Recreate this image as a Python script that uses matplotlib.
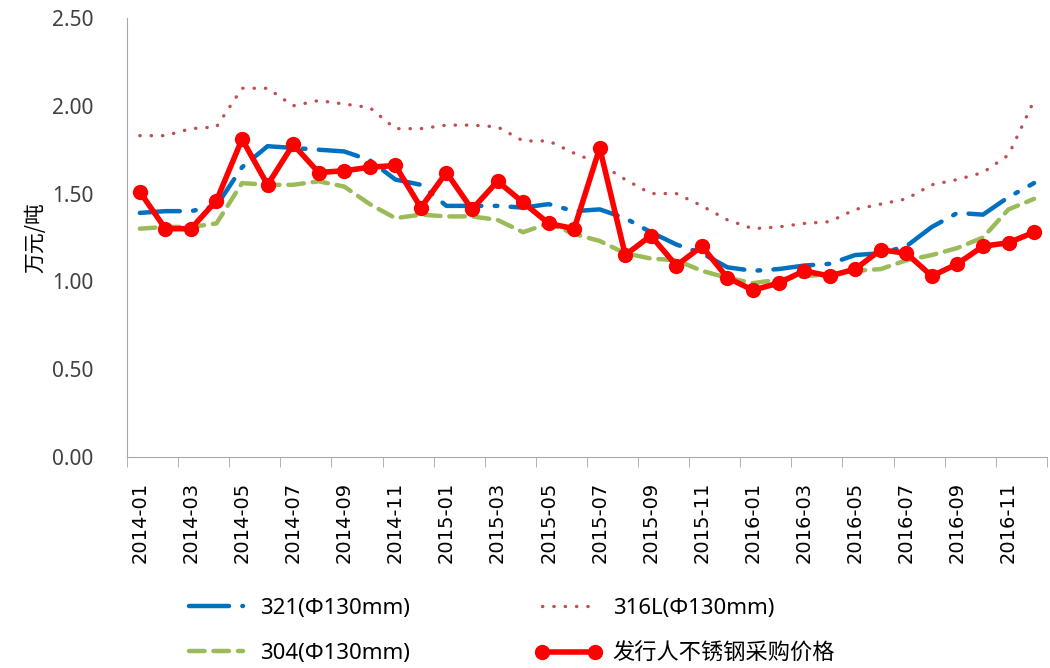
import numpy as np
import matplotlib
matplotlib.use('Agg')
import matplotlib.pyplot as plt

plt.rcParams['font.family'] = ['Noto Sans', 'Noto Sans CJK SC', 'DejaVu Sans']

# months 2014-01 .. 2016-12
months = [f'{y}-{m:02d}' for y in (2014, 2015, 2016) for m in range(1, 13)]

s321 = [1.39, 1.40, 1.40, 1.43, 1.65, 1.77, 1.76, 1.75, 1.74, 1.69, 1.58, 1.55,
        1.43, 1.43, 1.43, 1.42, 1.44, 1.40, 1.41, 1.36, 1.28, 1.21, 1.16, 1.08,
        1.06, 1.07, 1.09, 1.10, 1.15, 1.16, 1.20, 1.31, 1.39, 1.38, 1.48, 1.56]
s316L = [1.83, 1.83, 1.87, 1.88, 2.10, 2.10, 2.00, 2.03, 2.01, 1.99, 1.87, 1.87,
         1.89, 1.89, 1.88, 1.80, 1.80, 1.73, 1.67, 1.58, 1.50, 1.50, 1.43, 1.35,
         1.30, 1.31, 1.33, 1.34, 1.41, 1.44, 1.47, 1.55, 1.58, 1.62, 1.72, 2.03]
s304 = [1.30, 1.31, 1.31, 1.33, 1.56, 1.55, 1.55, 1.57, 1.54, 1.44, 1.36, 1.38,
        1.37, 1.37, 1.35, 1.28, 1.33, 1.27, 1.23, 1.16, 1.13, 1.12, 1.06, 1.02,
        0.99, 1.01, 1.03, 1.04, 1.06, 1.07, 1.12, 1.15, 1.19, 1.25, 1.41, 1.47]
issuer = [1.51, 1.30, 1.30, 1.46, 1.81, 1.55, 1.78, 1.62, 1.63, 1.65, 1.66, 1.42,
          1.62, 1.41, 1.57, 1.45, 1.33, 1.30, 1.76, 1.15, 1.26, 1.09, 1.20, 1.02,
          0.95, 0.99, 1.06, 1.03, 1.07, 1.18, 1.16, 1.03, 1.10, 1.20, 1.22, 1.28]

names = ['321(Φ130mm)', '316L(Φ130mm)', '304(Φ130mm)', '发行人不锈钢采购价格']

fig = plt.figure(figsize=(10.5, 6.68), dpi=100)
ax = fig.add_axes([0.121, 0.316, 0.876, 0.657])

x = np.arange(len(months))
l321, = ax.plot(x, s321, color='#0070C0', lw=3.2, dashes=(9, 3, 0.6, 3),
                dash_capstyle='round', label=names[0])
l316, = ax.plot(x, s316L, color='#C0504D', lw=2.4, dashes=(0.1, 3.3),
                dash_capstyle='round', label=names[1])
l304, = ax.plot(x, s304, color='#9BBB59', lw=3.2, dashes=(3.5, 2),
                dash_capstyle='round', label=names[2])
lred, = ax.plot(x, issuer, color='#FF0000', lw=4, marker='o', ms=10,
                label=names[3], zorder=5)

ax.set_xlim(-0.5, len(months) - 0.5)
ax.set_ylim(0, 2.5)
ax.set_yticks(np.arange(0, 2.51, 0.5))
ax.set_yticklabels([f'{v:.2f}' for v in np.arange(0, 2.51, 0.5)], fontsize=15,
                   color='#404040')
ax.tick_params(axis='y', length=0, pad=24)

ax.set_xticks(x[::2])
ax.set_xticklabels(months[::2], rotation=90, fontsize=14, family='DejaVu Sans')
ax.set_xticks(np.arange(-0.5, len(months), 2), minor=True)
ax.tick_params(axis='x', which='major', length=0, pad=18)
ax.tick_params(axis='x', which='minor', length=7, color='#A6A6A6')

for s in ('top', 'right'):
    ax.spines[s].set_visible(False)
for s in ('left', 'bottom'):
    ax.spines[s].set_color('#A6A6A6')

ax.set_ylabel('万元/吨', fontsize=15, family=['Noto Sans CJK SC'], labelpad=4)

fig.legend(handles=[l321, l304, l316, lred], ncol=2, frameon=False,
           loc='upper left', bbox_to_anchor=(0.155, 0.135), fontsize=16,
           handlelength=3.0, numpoints=2, columnspacing=5.6, labelspacing=1.1,
           handletextpad=0.5)

fig.savefig('out.png', dpi=100)
